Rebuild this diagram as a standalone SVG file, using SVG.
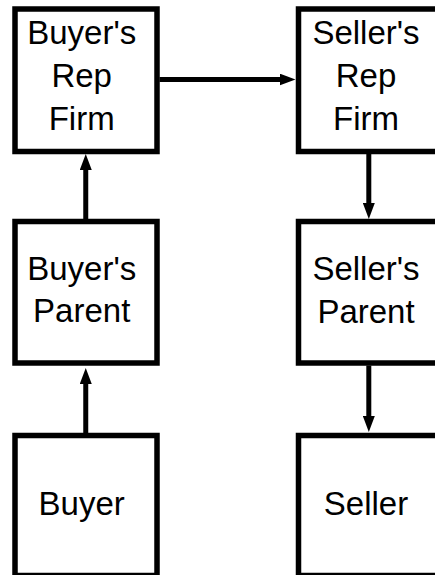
<svg xmlns="http://www.w3.org/2000/svg" width="435" height="575" viewBox="0 0 435 575">
  <style>
    .box { fill: #ffffff; stroke: #000000; stroke-width: 5.5; }
    .lbl { font-family: "Liberation Sans", Arial, sans-serif; font-size: 33px; fill: #000000; text-anchor: middle; }
    .link { fill: none; stroke: #000000; stroke-width: 5; }
  </style>
  <defs>
    <marker id="head" markerUnits="userSpaceOnUse" markerWidth="17" markerHeight="12" refX="1" refY="6" orient="auto">
      <path d="M0,0 L16,6 L0,12 z" fill="#000000"/>
    </marker>
  </defs>
  <rect width="435" height="575" fill="#ffffff"/>

  <!-- buyer side -->
  <g id="buyers-rep-firm">
    <rect class="box" x="15" y="9" width="142" height="142.5"/>
    <text class="lbl" x="81.7" y="44.3">Buyer's</text>
    <text class="lbl" x="81.7" y="87.3">Rep</text>
    <text class="lbl" x="81.7" y="130">Firm</text>
  </g>
  <g id="buyers-parent">
    <rect class="box" x="15" y="221.5" width="142" height="141.5"/>
    <text class="lbl" x="81.7" y="279.5">Buyer's</text>
    <text class="lbl" x="81.7" y="322">Parent</text>
  </g>
  <g id="buyer">
    <rect class="box" x="15" y="435.5" width="142" height="140"/>
    <text class="lbl" x="81.7" y="515">Buyer</text>
  </g>

  <!-- seller side -->
  <g id="sellers-rep-firm">
    <rect class="box" x="298.5" y="9" width="142" height="142.5"/>
    <text class="lbl" x="366" y="44.3">Seller's</text>
    <text class="lbl" x="366" y="87.3">Rep</text>
    <text class="lbl" x="366" y="130">Firm</text>
  </g>
  <g id="sellers-parent">
    <rect class="box" x="298.5" y="221.5" width="142" height="141.5"/>
    <text class="lbl" x="366" y="280">Seller's</text>
    <text class="lbl" x="366" y="323">Parent</text>
  </g>
  <g id="seller">
    <rect class="box" x="298.5" y="435.5" width="142" height="140"/>
    <text class="lbl" x="366" y="515">Seller</text>
  </g>

  <!-- connectors -->
  <g id="connectors">
    <path class="link" d="M85.75,219 L85.75,169" marker-end="url(#head)"/>
    <path class="link" d="M85.75,433 L85.75,383" marker-end="url(#head)"/>
    <path class="link" d="M159.5,79.5 L280.5,79.5" marker-end="url(#head)"/>
    <path class="link" d="M368.8,154 L368.8,204" marker-end="url(#head)"/>
    <path class="link" d="M368.8,365.5 L368.8,417" marker-end="url(#head)"/>
  </g>
</svg>
